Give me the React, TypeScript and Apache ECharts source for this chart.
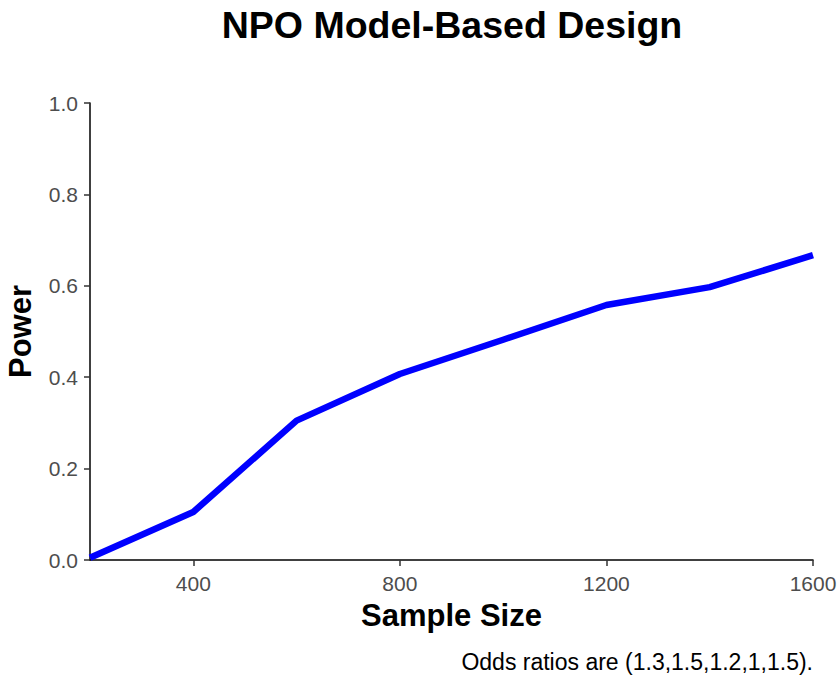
import React, { useEffect, useRef } from "react";
import * as echarts from "echarts";

const sampleSizes = [200, 400, 600, 800, 1000, 1200, 1400, 1600];
const powerValues = [0.005, 0.105, 0.305, 0.407, 0.482, 0.558, 0.597, 0.667];
const xTickValues = [400, 800, 1200, 1600];
const titleText = "NPO Model-Based Design";
const xTitle = "Sample Size";
const yTitle = "Power";
const captionText = "Odds ratios are (1.3,1.5,1.2,1,1.5).";

const FONT = "'Liberation Sans', Arial, sans-serif";

export default function App() {
  const ref = useRef<HTMLDivElement>(null);
  useEffect(() => {
    document.body.style.margin = "0";
    const chart = echarts.init(ref.current!, null, { renderer: "svg" });
    chart.setOption({
      animation: false,
      backgroundColor: "#ffffff",
      grid: { left: 90, right: 25, top: 103, bottom: 115, containLabel: false, outerBoundsMode: "none" },
      xAxis: {
        type: "value",
        min: 200,
        max: 1600,
        interval: 200,
        name: xTitle,
        nameLocation: "middle",
        nameGap: 40,
        nameTextStyle: { fontFamily: FONT, fontSize: 31, fontWeight: "bold", color: "#000" },
        axisLine: { show: true, onZero: false, lineStyle: { color: "#000", width: 1.5 } },
        axisTick: { show: true, length: 6, customValues: xTickValues, lineStyle: { color: "#333", width: 1.5 } },
        axisLabel: {
          customValues: xTickValues,
          margin: 13,
          fontFamily: FONT,
          fontSize: 21,
          color: "#4D4D4D",
          formatter: (v: number) => String(v),
        },
        splitLine: { show: false },
      },
      yAxis: {
        type: "value",
        min: 0,
        max: 1,
        interval: 0.2,
        name: yTitle,
        nameLocation: "middle",
        nameGap: 54,
        nameTextStyle: { fontFamily: FONT, fontSize: 31, fontWeight: "bold", color: "#000" },
        axisLine: { show: true, lineStyle: { color: "#000", width: 1.5 } },
        axisTick: { show: true, length: 6, lineStyle: { color: "#333", width: 1.5 } },
        axisLabel: {
          margin: 12,
          fontFamily: FONT,
          fontSize: 21,
          color: "#4D4D4D",
          formatter: (v: number) => v.toFixed(1),
        },
        splitLine: { show: false },
      },
      series: [
        {
          type: "line",
          data: sampleSizes.map((s, i) => [s, powerValues[i]]),
          showSymbol: false,
          symbol: "none",
          lineStyle: { color: "#0000FF", width: 6.5, join: "round" },
          clip: false,
        },
      ],
      graphic: [
        {
          type: "text",
          x: 452,
          y: 25,
          style: {
            text: titleText,
            fontFamily: FONT,
            fontSize: 37.5,
            fontWeight: "bold",
            fill: "#000",
            align: "center",
            verticalAlign: "middle",
          },
        },
        {
          type: "text",
          x: 813,
          y: 662,
          style: {
            text: captionText,
            fontFamily: FONT,
            fontSize: 23,
            fill: "#000",
            align: "right",
            verticalAlign: "middle",
          },
        },
      ],
    });
    return () => chart.dispose();
  }, []);
  return <div ref={ref} style={{ width: 838, height: 675 }} />;
}
